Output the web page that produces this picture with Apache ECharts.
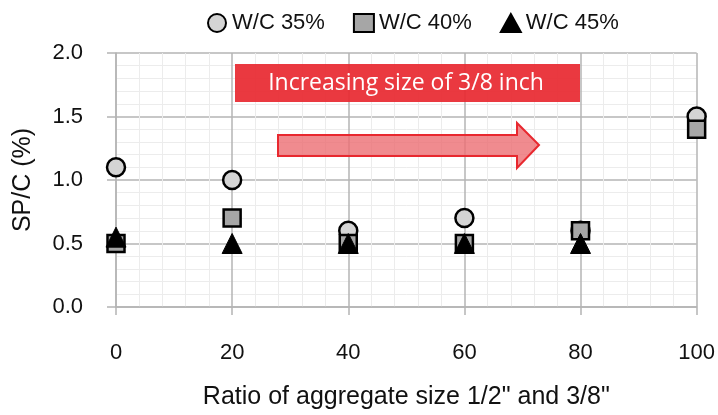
<!DOCTYPE html>
<html>
<head>
<meta charset="utf-8">
<script src="https://cdn.jsdelivr.net/npm/echarts@6/dist/echarts.min.js"></script>
<style>
html,body{margin:0;padding:0;background:#fff;}
#main{width:718px;height:415px;}
</style>
</head>
<body>
<div id="main"></div>
<script>
// 骨料比例 (x)
const ratios = [0, 20, 40, 60, 80, 100];
// SP/C 数据
const wc35 = [1.1, 1.0, 0.6, 0.7, 0.6, 1.5];
const wc40 = [0.5, 0.7, 0.5, 0.5, 0.6, 1.4];
const wc45 = [0.55, 0.5, 0.5, 0.5, 0.5, null];
const seriesNames = ['W/C 35%', 'W/C 40%', 'W/C 45%'];

function pairs(ys) {
	return ratios.map((x, i) => [x, ys[i]]).filter(p => p[1] != null);
}

const font = '"Liberation Sans", Arial, sans-serif';
const myChart = echarts.init(document.getElementById('main'));

const option = {
	animation: false,
	backgroundColor: '#fff',
	textStyle: { fontFamily: font },
	legend: {
		top: 7,
		left: 202,
		itemWidth: 20,
		itemHeight: 18,
		itemGap: 28,
		textStyle: { fontSize: 22, color: '#111', fontFamily: font },
		data: seriesNames
	},
	grid: { left: 116, right: 17, top: 53, bottom: 106 },
	xAxis: {
		type: 'value',
		min: 0,
		max: 100,
		interval: 20,
		name: 'Ratio of aggregate size 1/2" and 3/8"',
		nameLocation: 'middle',
		nameGap: 78,
		nameTextStyle: { fontSize: 25, color: '#111', fontFamily: font },
		axisLine: { show: true, lineStyle: { color: '#b4b4b4', width: 1.5 } },
		axisTick: { show: true, length: 8, lineStyle: { color: '#b4b4b4', width: 1.5 } },
		axisLabel: { fontSize: 22, color: '#111', margin: 35 },
		splitLine: { show: true, lineStyle: { color: '#b4b4b4', width: 1.5 } },
		minorTick: { show: false, splitNumber: 5 },
		minorSplitLine: { show: true, lineStyle: { color: '#ececec', width: 1 } }
	},
	yAxis: {
		type: 'value',
		min: 0,
		max: 2,
		interval: 0.5,
		name: 'SP/C (%)',
		nameLocation: 'middle',
		nameGap: 80,
		nameTextStyle: { fontSize: 25, color: '#111', fontFamily: font },
		axisLine: { show: true, lineStyle: { color: '#b4b4b4', width: 1.5 } },
		axisTick: { show: true, length: 9, lineStyle: { color: '#b4b4b4', width: 1.5 } },
		axisLabel: { fontSize: 22, color: '#111', margin: 33, formatter: v => v.toFixed(1) },
		splitLine: { show: true, lineStyle: { color: '#b4b4b4', width: 1.5 } },
		minorTick: { show: false, splitNumber: 5 },
		minorSplitLine: { show: true, lineStyle: { color: '#ececec', width: 1 } }
	},
	series: [
		{
			name: seriesNames[0],
			type: 'scatter',
			symbol: 'circle',
			symbolSize: 18,
			itemStyle: { color: '#d4d4d4', borderColor: '#000', borderWidth: 2.5, opacity: 1 },
			data: pairs(wc35)
		},
		{
			name: seriesNames[1],
			type: 'scatter',
			symbol: 'rect',
			symbolSize: 17,
			itemStyle: { color: '#a6a6a6', borderColor: '#000', borderWidth: 2.5, opacity: 1 },
			data: pairs(wc40)
		},
		{
			name: seriesNames[2],
			type: 'scatter',
			symbol: 'triangle',
			symbolSize: 20,
			itemStyle: { color: '#000', borderColor: '#000', borderWidth: 1, opacity: 1 },
			data: pairs(wc45)
		}
	],
	graphic: [
		{
			type: 'rect',
			shape: { x: 235, y: 64, width: 345, height: 38 },
			style: { fill: 'rgba(232,40,48,0.92)' },
			z: 10
		},
		{
			type: 'text',
			x: 406, y: 83,
			style: {
				text: 'Increasing size of 3/8 inch',
				fill: '#fff',
				font: '23px "Open Sans", "DejaVu Sans", sans-serif',
				align: 'center',
				verticalAlign: 'middle'
			},
			z: 11
		},
		{
			type: 'polygon',
			shape: {
				points: [[278, 135], [517, 135], [517, 123], [539, 145], [517, 168], [517, 156], [278, 156]]
			},
			style: { fill: 'rgba(236,110,115,0.8)', stroke: '#e8282f', lineWidth: 2 },
			z: 10
		}
	]
};

myChart.setOption(option);
</script>
</body>
</html>
